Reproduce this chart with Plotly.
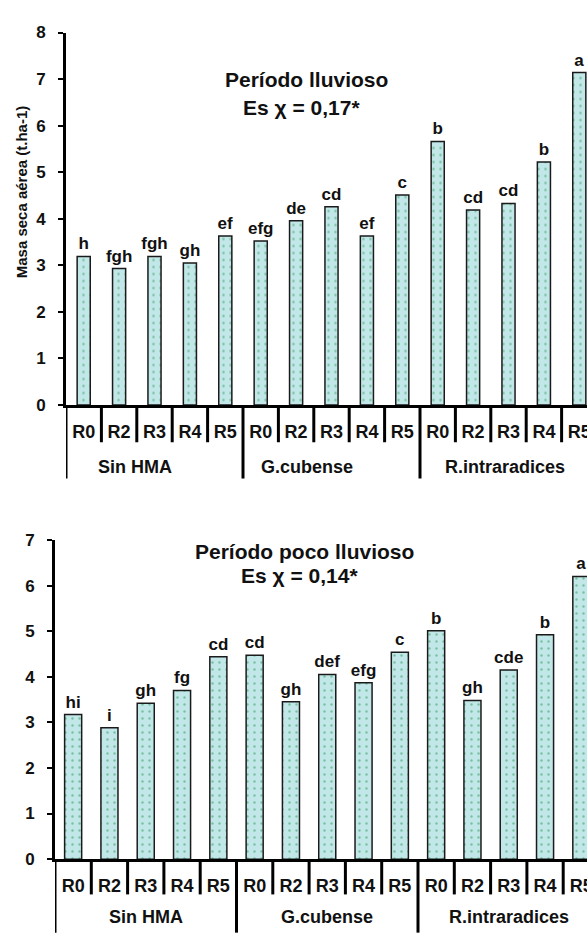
import plotly.graph_objects as go

groups = ["Sin HMA"] * 5 + ["G.cubense"] * 5 + ["R.intraradices"] * 5
group_names = ["Sin HMA", "G.cubense", "R.intraradices"]
treatments = ["R0", "R2", "R3", "R4", "R5"] * 3
rainy_values = [3.19, 2.93, 3.19, 3.05, 3.63, 3.52, 3.96, 4.26, 3.63, 4.51, 5.66, 4.19, 4.33, 5.22, 7.14]
rainy_letters = ["h", "fgh", "fgh", "gh", "ef", "efg", "de", "cd", "ef", "c", "b", "cd", "cd", "b", "a"]
dry_values = [3.17, 2.88, 3.42, 3.70, 4.44, 4.47, 3.45, 4.05, 3.87, 4.54, 5.01, 3.48, 4.15, 4.92, 6.20]
dry_letters = ["hi", "i", "gh", "fg", "cd", "cd", "gh", "def", "efg", "c", "b", "gh", "cde", "b", "a"]
rainy_title = ["Período lluvioso", "Es χ = 0,17*"]
dry_title = ["Período poco lluvioso", "Es χ = 0,14*"]
y_title = "Masa seca aérea (t.ha-1)"

FONT = "Liberation Sans, Arial, sans-serif"
FILL = "#c2e7e8"
DOT = "#2f9a58"
INK = "#111111"

# the figure is a little larger than the 587x936 window and pinned to its top-left
# corner, so the last category is cut by the window edge as in the reference
W, H = 600, 960

idx = list(range(len(treatments)))


def px_x(p):
    return p / W


def py(p):
    return 1 - p / H


def bar(values, letters, xa, ya, width):
    return go.Bar(
        x=idx, y=values, text=letters, textposition="outside", constraintext="none",
        cliponaxis=False, width=width,
        textfont=dict(family=FONT, size=17, color=INK, weight="bold"),
        marker=dict(color=FILL, line=dict(color="#1a1a1a", width=1.5),
                    pattern=dict(shape=".", fgcolor=DOT, bgcolor=FILL, size=7, solidity=0.1)),
        xaxis=xa, yaxis=ya, showlegend=False, hoverinfo="skip")


fig = go.Figure()
fig.add_trace(bar(rainy_values, rainy_letters, "x", "y", 0.37))
fig.add_trace(bar(dry_values, dry_letters, "x2", "y2", 0.47))

axis_common = dict(showline=True, linecolor="black", linewidth=3, showgrid=False, zeroline=False)
xcommon = dict(axis_common, tickmode="array", tickvals=idx, ticktext=treatments, ticks="",
               ticklabelstandoff=8, ticklabeloverflow="allow",
               tickfont=dict(family=FONT, size=18, color=INK, weight="bold"))
ycommon = dict(axis_common, ticks="outside", ticklen=5, tickwidth=2, tickcolor="black",
               dtick=1, ticklabelstandoff=9,
               tickfont=dict(family=FONT, size=17, color=INK, weight="bold"))

# layout geometry (window pixels)
top_axis_px, top_top_px, top_left_px, top_cat_px = 404, 24, 66, 35.4
bot_axis_px, bot_top_px, bot_left_px, bot_cat_px = 867.3, 541.7, 55, 36.3
top_xmax = -0.5 + (W - top_left_px) / top_cat_px
bot_xmax = -0.5 + (W - bot_left_px) / bot_cat_px

fig.update_layout(
    width=W, height=H, margin=dict(l=0, r=0, t=0, b=0),
    paper_bgcolor="white", plot_bgcolor="white",
    xaxis=dict(xcommon, domain=[px_x(top_left_px), 1], range=[-0.5, top_xmax], anchor="y"),
    yaxis=dict(ycommon, domain=[py(top_axis_px), py(top_top_px)], range=[0, 8], anchor="x"),
    xaxis2=dict(xcommon, domain=[px_x(bot_left_px), 1], range=[-0.5, bot_xmax], anchor="y2"),
    yaxis2=dict(ycommon, domain=[py(bot_axis_px), py(bot_top_px)], range=[0, 7], anchor="x2"),
)

# category separators below each x axis
line = dict(color="black", width=3)
for xref, axis_px, inner_len, group_len, xmax in [
        ("x", top_axis_px, 38, 75, top_xmax),
        ("x2", bot_axis_px, 36, 75, bot_xmax)]:
    for k in range(len(treatments) + 1):
        xb = k - 0.5
        if xb > xmax:
            continue
        is_group = k == 0 or groups[k - 1] != (groups[k] if k < len(groups) else None)
        length = group_len if is_group else inner_len
        fig.add_shape(type="line", xref=xref, yref="paper", x0=xb, x1=xb,
                      y0=py(axis_px), y1=py(axis_px + length), line=line)

# group labels
top_shift_px = [-20, -25, -4]
for gi, g in enumerate(group_names):
    members = [i for i, gg in enumerate(groups) if gg == g]
    center = sum(members) / len(members)
    fig.add_annotation(showarrow=False, xref="x", yref="paper", text=g,
                       x=center + top_shift_px[gi] / top_cat_px, y=py(467),
                       xanchor="center", yanchor="middle",
                       font=dict(family=FONT, size=18, color=INK, weight="bold"))
    fig.add_annotation(showarrow=False, xref="x2", yref="paper", text=g,
                       x=center, y=py(926),
                       xanchor="center", yanchor="middle",
                       font=dict(family=FONT, size=18, color=INK, weight="bold"))

ann = dict(showarrow=False, xref="paper", yref="paper", xanchor="center", yanchor="middle",
           font=dict(family=FONT, size=21, color=INK, weight="bold"))
fig.add_annotation(ann, text=rainy_title[0], x=px_x(306), y=py(72))
fig.add_annotation(ann, text=rainy_title[1], x=px_x(301), y=py(100))
fig.add_annotation(ann, text=dry_title[0], x=px_x(304), y=py(553))
fig.add_annotation(ann, text=dry_title[1], x=px_x(299), y=py(578))
fig.add_annotation(showarrow=False, xref="paper", yref="paper", text=y_title, textangle=-90,
                   x=px_x(21), y=py(187), xanchor="center", yanchor="middle",
                   font=dict(family=FONT, size=15, color=INK, weight="bold"))

# pin the graph to the window's top-left corner so the page body margin does not shift it
pin = ("var d=document.getElementById('{plot_id}');"
       "d.style.position='fixed';d.style.left='0px';d.style.top='0px';"
       "document.body.style.margin='0px';document.documentElement.style.overflow='hidden';")

fig.write_html("out.html", post_script=pin, config={"displayModeBar": False})
